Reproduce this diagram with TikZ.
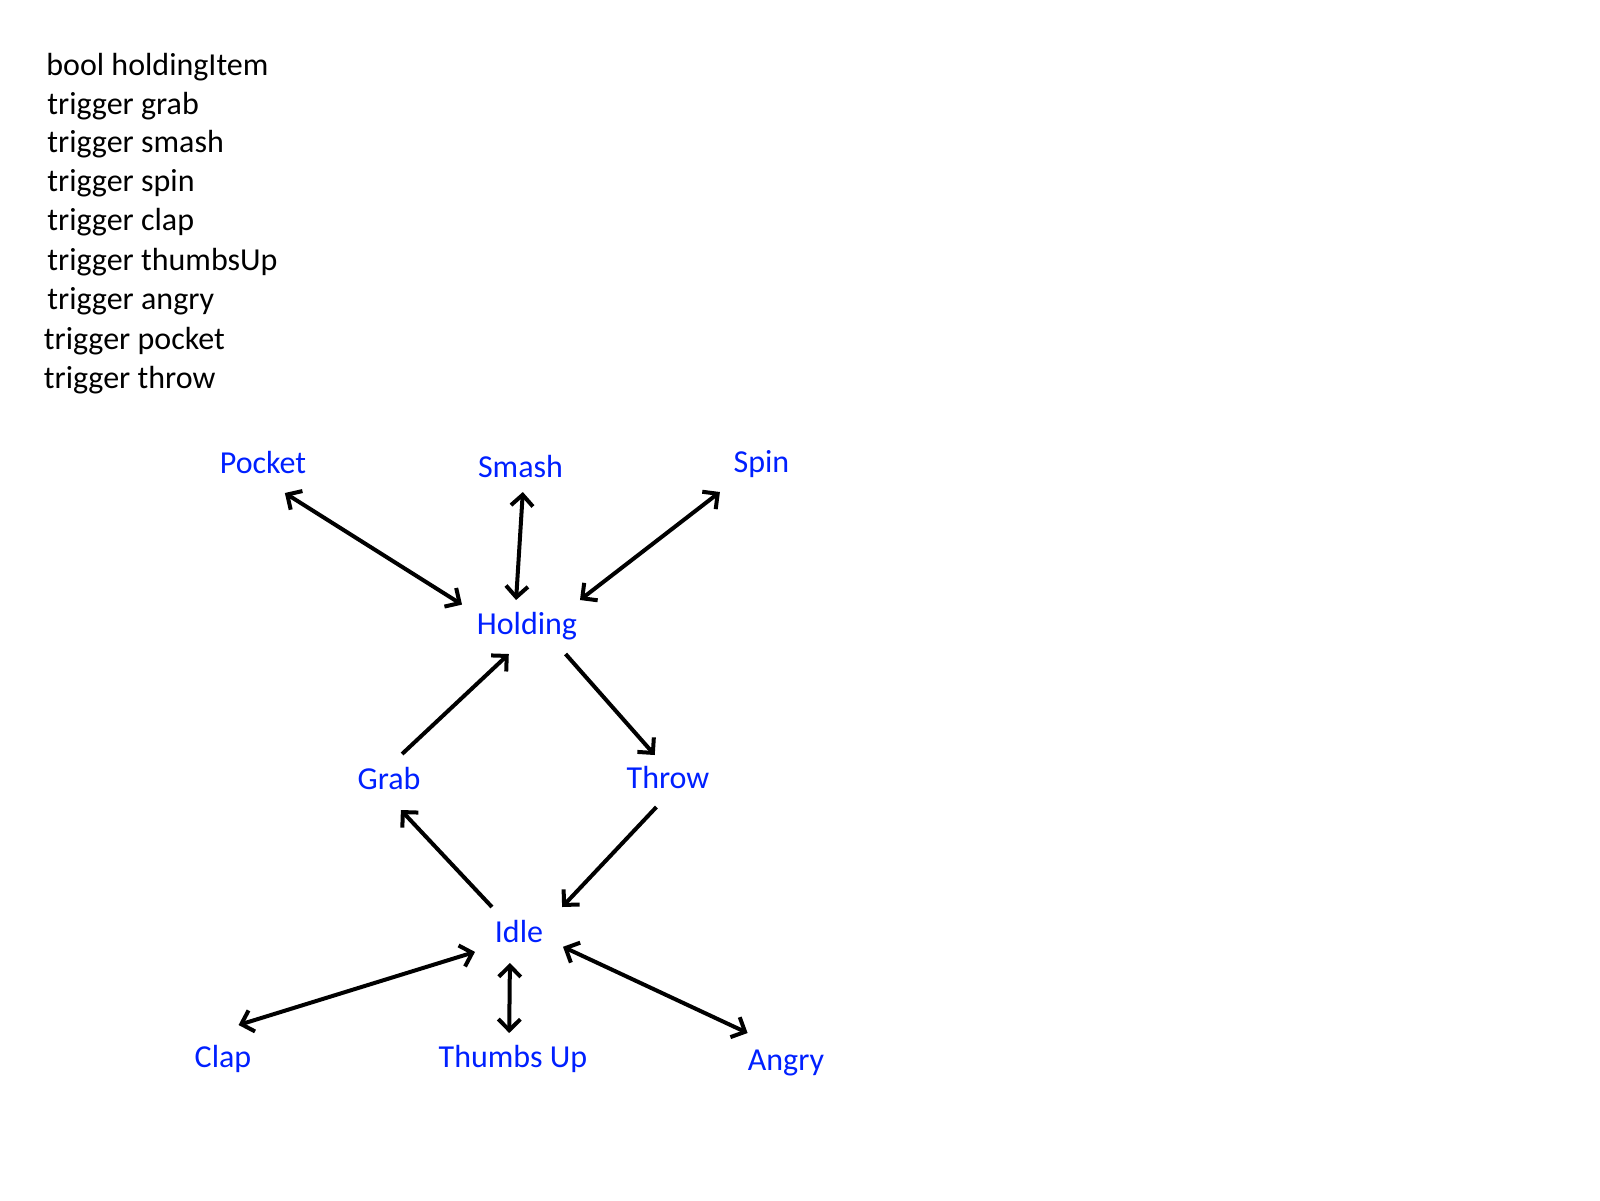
\documentclass[tikz,border=0pt]{standalone}
\usepackage{fontspec}
\setmainfont{Carlito}
\usetikzlibrary{arrows.meta}
\definecolor{lblblue}{RGB}{0,32,255}
\begin{document}
\begin{tikzpicture}[x=0.5pt,y=-0.5pt,
  every node/.style={font=\fontsize{16pt}{19pt}\selectfont},
  var/.style={anchor=base west, inner sep=0pt, text=black},
  state/.style={text=lblblue, inner sep=0pt, outer sep=0pt, text height=11pt, text depth=4pt, rectangle},
  conn/.style={line width=2pt, draw=black},
  >={Straight Barb[length=5.5pt,width=11pt]},
  one/.style={conn, ->},
  both/.style={conn, <->}
]
\fill[white] (0,0) rectangle (1600,1200);
\useasboundingbox (0,0) rectangle (1600,1200);

% variable list
\node[var] (v1) at (46,75)    {bool holdingItem};
\node[var] (v2) at (47,114)   {trigger grab};
\node[var] (v3) at (47,152)   {trigger smash};
\node[var] (v4) at (47,191)   {trigger spin};
\node[var] (v5) at (47,230.5) {trigger clap};
\node[var] (v6) at (47,270)   {trigger thumbsUp};
\node[var] (v7) at (47,309)   {trigger angry};
\node[var] (v8) at (43.5,349) {trigger pocket};
\node[var] (v9) at (43.5,388) {trigger throw};

% states
\node[state, minimum width=45pt, minimum height=27pt] (Pocket)   at (263,466)   {Pocket};
\node[state, minimum width=45pt, minimum height=22pt] (Smash)    at (520.5,470) {Smash};
\node[state, minimum width=45pt, minimum height=27pt] (Spin)     at (761.5,465) {Spin};
\node[state, minimum width=65pt, minimum height=27pt] (Holding)  at (527,627)   {Holding};
\node[state, minimum width=35pt, minimum height=28pt] (Grab)     at (389,782)   {Grab};
\node[state, minimum width=45pt, minimum height=26pt] (Throw)    at (668,781)   {Throw};
\node[state, minimum width=44pt, minimum height=28pt] (Idle)     at (519,935)   {Idle};
\node[state, minimum width=40pt, minimum height=35pt] (Clap)     at (223,1060)  {Clap};
\node[state, minimum width=80pt, minimum height=27pt] (ThumbsUp) at (513,1060)  {Thumbs Up};
\node[state, minimum width=45pt, minimum height=30pt] (Angry)    at (786,1063)  {Angry};

% connectors
\draw[both] (Pocket.-51) -- (Holding.161);
\draw[both] (Smash.-84) -- (Holding.112);
\draw[both] (Spin.213) -- (Holding.27);
\draw[one] (Grab.65) -- (Holding.236);
\draw[one] (Holding.-35) -- (Throw.117);
\draw[one] (Throw.246) -- (Idle.33);
\draw[one] (Idle.134) -- (Grab.-67);
\draw[both] (Idle.201) -- (Clap.66);
\draw[both] (Idle.252) -- (ThumbsUp.98);
\draw[both] (Idle.-15) -- (Angry.142);
\end{tikzpicture}
\end{document}
